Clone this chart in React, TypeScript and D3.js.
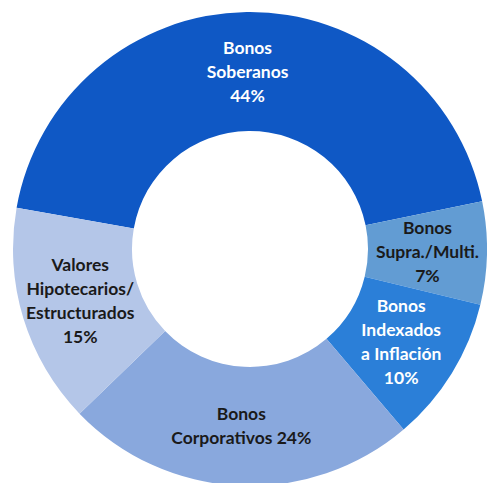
import React, { useEffect, useRef } from 'react';
import * as d3 from 'd3';

// Composición de la cartera de bonos
const categorias = ['soberanos', 'supra', 'indexados', 'corporativos', 'valores'];
const porcentajes = [44, 7, 10, 24, 15];
const etiquetas = [
  ['Bonos', 'Soberanos', '44%'],
  ['Bonos', 'Supra./Multi.', '7%'],
  ['Bonos', 'Indexados', 'a Inflación', '10%'],
  ['Bonos', 'Corporativos 24%'],
  ['Valores', 'Hipotecarios/', 'Estructurados', '15%'],
];
const colores = ['#0F58C5', '#629CD3', '#2B7FD8', '#89A8DD', '#B4C6E8'];
const colorTexto = ['#ffffff', '#1a1a1a', '#ffffff', '#1a1a1a', '#1a1a1a'];

const W = 487;
const H = 483;

const App = () => {
  const ref = useRef<SVGSVGElement>(null);

  useEffect(() => {
    const svg = d3.select(ref.current);
    svg.selectAll('*').remove();

    const cx = 250;
    const cy = 249;
    const rOut = 237;
    const rIn = 118;
    const inicio = (-80 * Math.PI) / 180;

    const datos = categorias.map((c, i) => ({ c, v: porcentajes[i], i }));

    const pie = d3.pie<any>()
      .value(d => d.v)
      .sort(null)
      .startAngle(inicio)
      .endAngle(inicio + 2 * Math.PI);

    const arc = d3.arc<any>().innerRadius(rIn).outerRadius(rOut);

    const g = svg.append('g').attr('transform', `translate(${cx},${cy})`);

    const arcos = pie(datos);

    g.selectAll('path')
      .data(arcos)
      .enter()
      .append('path')
      .attr('d', arc)
      .attr('fill', d => colores[d.data.i]);

    const lh = 24;
    arcos.forEach(d => {
      const [x, y] = arc.centroid(d);
      const lineas = etiquetas[d.data.i];
      const t = g.append('text')
        .attr('text-anchor', 'middle')
        .attr('font-family', 'Lato, "Open Sans", sans-serif')
        .attr('font-weight', 700)
        .attr('font-size', 17.5)
        .attr('fill', colorTexto[d.data.i]);
      lineas.forEach((l, k) => {
        t.append('tspan')
          .attr('x', x)
          .attr('y', y + (k - (lineas.length - 1) / 2) * lh)
          .attr('dy', '0.35em')
          .text(l);
      });
    });
  }, []);

  return (
    <div style={{ position: 'absolute', left: 0, top: 0 }}>
      <svg ref={ref} width={W} height={H} style={{ display: 'block', background: '#fff' }} />
    </div>
  );
};

export default App;
